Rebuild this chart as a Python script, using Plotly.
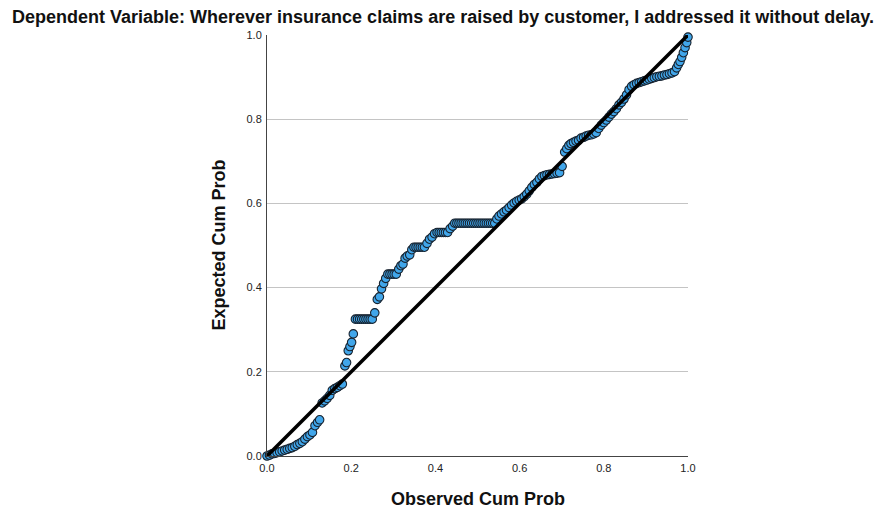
import plotly.graph_objects as go

# Normal P-P plot of regression standardized residuals
observed_cum_prob = [
    0.000, 0.006, 0.012, 0.018, 0.024, 0.030, 0.036, 0.042, 0.048, 0.054,
    0.060, 0.066, 0.072, 0.078, 0.084, 0.090, 0.096, 0.102, 0.108, 0.114,
    0.120, 0.125, 0.131, 0.137, 0.143, 0.149, 0.155, 0.161, 0.167, 0.173,
    0.179, 0.185, 0.189, 0.193, 0.197, 0.201, 0.205, 0.210, 0.215, 0.220,
    0.225, 0.230, 0.235, 0.240, 0.245, 0.250, 0.256, 0.262, 0.267, 0.272,
    0.277, 0.282, 0.287, 0.292, 0.297, 0.302, 0.307, 0.313, 0.318, 0.323,
    0.328, 0.333, 0.339, 0.344, 0.349, 0.354, 0.359, 0.364, 0.369, 0.374,
    0.380, 0.386, 0.392, 0.398, 0.404, 0.409, 0.414, 0.419, 0.424, 0.429,
    0.435, 0.441, 0.446, 0.451, 0.456, 0.461, 0.466, 0.471, 0.476, 0.481,
    0.486, 0.491, 0.496, 0.501, 0.506, 0.511, 0.516, 0.521, 0.526, 0.531,
    0.536, 0.541, 0.546, 0.551, 0.557, 0.563, 0.569, 0.575, 0.581, 0.587,
    0.593, 0.599, 0.605, 0.611, 0.617, 0.623, 0.629, 0.635, 0.641, 0.647,
    0.653, 0.659, 0.665, 0.671, 0.677, 0.683, 0.689, 0.695, 0.701, 0.707,
    0.712, 0.717, 0.722, 0.728, 0.734, 0.740, 0.746, 0.752, 0.758, 0.764,
    0.770, 0.776, 0.782, 0.788, 0.794, 0.800, 0.806, 0.812, 0.818, 0.824,
    0.830, 0.836, 0.842, 0.848, 0.854, 0.860, 0.866, 0.872, 0.878, 0.884,
    0.890, 0.896, 0.902, 0.908, 0.914, 0.920, 0.926, 0.932, 0.938, 0.944,
    0.950, 0.956, 0.962, 0.968, 0.973, 0.977, 0.981, 0.985, 0.989, 0.993,
    0.997, 1.000,
]

expected_cum_prob = [
    0.000, 0.002, 0.005, 0.006, 0.008, 0.010, 0.012, 0.014, 0.016, 0.018,
    0.020, 0.023, 0.027, 0.030, 0.034, 0.040, 0.046, 0.050, 0.056, 0.072,
    0.080, 0.086, 0.126, 0.131, 0.137, 0.144, 0.156, 0.160, 0.163, 0.167,
    0.171, 0.214, 0.222, 0.250, 0.260, 0.270, 0.290, 0.325, 0.325, 0.325,
    0.325, 0.325, 0.325, 0.325, 0.325, 0.325, 0.340, 0.372, 0.378, 0.397,
    0.410, 0.422, 0.432, 0.432, 0.432, 0.432, 0.432, 0.444, 0.452, 0.456,
    0.470, 0.475, 0.478, 0.490, 0.496, 0.496, 0.496, 0.496, 0.496, 0.496,
    0.505, 0.515, 0.520, 0.528, 0.531, 0.531, 0.531, 0.531, 0.531, 0.531,
    0.540, 0.546, 0.553, 0.553, 0.553, 0.553, 0.553, 0.553, 0.553, 0.553,
    0.553, 0.553, 0.553, 0.553, 0.553, 0.553, 0.553, 0.553, 0.553, 0.553,
    0.553, 0.553, 0.563, 0.570, 0.575, 0.580, 0.584, 0.590, 0.596, 0.601,
    0.605, 0.608, 0.611, 0.616, 0.622, 0.630, 0.638, 0.645, 0.650, 0.658,
    0.664, 0.666, 0.668, 0.669, 0.670, 0.671, 0.672, 0.673, 0.688, 0.722,
    0.730, 0.738, 0.742, 0.745, 0.748, 0.750, 0.755, 0.757, 0.760, 0.762,
    0.763, 0.765, 0.768, 0.778, 0.786, 0.792, 0.798, 0.805, 0.812, 0.818,
    0.825, 0.834, 0.840, 0.848, 0.858, 0.870, 0.878, 0.882, 0.885, 0.887,
    0.889, 0.891, 0.893, 0.895, 0.897, 0.899, 0.901, 0.902, 0.903, 0.905,
    0.906, 0.908, 0.910, 0.913, 0.922, 0.930, 0.937, 0.947, 0.958, 0.970,
    0.982, 0.995,
]

reference_line = [0.0, 1.0]
tick_values = [0.0, 0.2, 0.4, 0.6, 0.8, 1.0]
tick_labels = ["0.0", "0.2", "0.4", "0.6", "0.8", "1.0"]

title_text = ("Dependent Variable: Wherever insurance claims are raised by "
              "customer, I addressed it without delay.")

fig = go.Figure()

fig.add_trace(go.Scatter(
    x=observed_cum_prob,
    y=expected_cum_prob,
    mode="markers",
    marker=dict(size=8.5, color="#41a6ea",
                line=dict(color="#17222e", width=1.1)),
    cliponaxis=False,
    showlegend=False,
    hoverinfo="x+y",
))

fig.add_trace(go.Scatter(
    x=reference_line,
    y=reference_line,
    mode="lines",
    line=dict(color="black", width=3.5),
    cliponaxis=False,
    showlegend=False,
    hoverinfo="skip",
))

axis_font = dict(family="Liberation Sans, Arial, sans-serif", size=11, color="#222")
label_font = dict(family="Liberation Sans, Arial, sans-serif", size=18, color="#111")

fig.update_layout(
    width=883,
    height=511,
    margin=dict(l=267, r=195, t=35, b=55),
    paper_bgcolor="white",
    plot_bgcolor="white",
    font=dict(family="Liberation Sans, Arial, sans-serif", color="#111"),
    xaxis=dict(
        range=[0, 1],
        tickvals=tick_values,
        ticktext=tick_labels,
        tickfont=axis_font,
        showgrid=False,
        zeroline=False,
        showline=True,
        linecolor="#444",
        linewidth=1,
        ticks="",
        ticklabelstandoff=2,
        fixedrange=True,
    ),
    yaxis=dict(
        range=[0, 1],
        tickvals=tick_values,
        ticktext=tick_labels,
        tickfont=axis_font,
        showgrid=True,
        gridcolor="#c4c4c4",
        gridwidth=1,
        zeroline=False,
        showline=True,
        linecolor="#444",
        linewidth=1,
        ticks="",
        ticklabelstandoff=2,
        fixedrange=True,
    ),
    annotations=[
        # heading: centred at x=443 px, y=17 px from the top of the page
        dict(text="<b>" + title_text + "</b>", x=0.5, y=1, xref="paper",
             yref="paper", xanchor="center", yanchor="middle",
             xshift=443 - (267 + 421 / 2), yshift=35 - 17,
             showarrow=False, font=label_font),
        dict(text="<b>Observed Cum Prob</b>", x=0.5, y=0, xref="paper",
             yref="paper", xanchor="center", yanchor="middle",
             yshift=-43, showarrow=False, font=label_font),
        dict(text="<b>Expected Cum Prob</b>", x=0, y=0.5, xref="paper",
             yref="paper", xanchor="center", yanchor="middle",
             xshift=-49, textangle=-90, showarrow=False, font=label_font),
    ],
)

fig.write_html("out.html")
